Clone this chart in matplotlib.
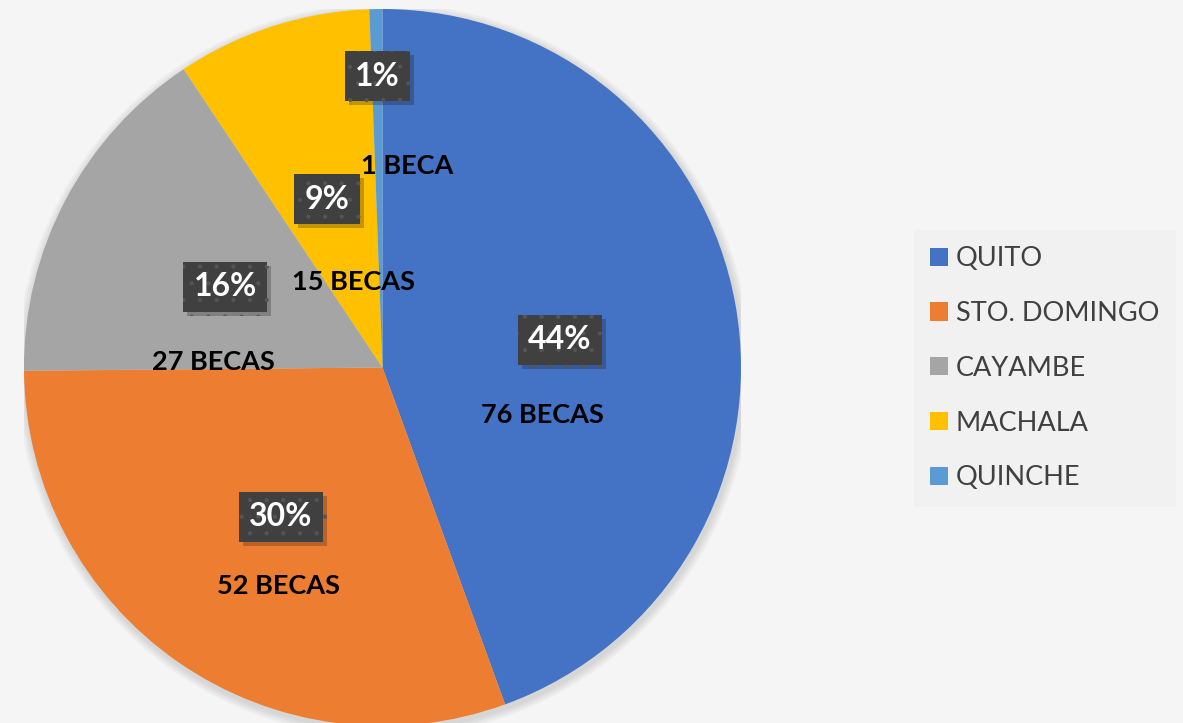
import matplotlib.pyplot as plt
import matplotlib.patheffects as pe
from matplotlib.patches import Patch, Circle

cities = ['QUITO', 'STO. DOMINGO', 'CAYAMBE', 'MACHALA', 'QUINCHE']
becas = [76, 52, 27, 15, 1]
becas_labels = ['76 BECAS', '52 BECAS', '27 BECAS', '15 BECAS', '1 BECA']
colors = ['#4472C4', '#ED7D31', '#A5A5A5', '#FFC000', '#5B9BD5']

# label positions (pie radius units)
pct_pos = [(0.495, 0.077), (-0.283, -0.417), (-0.439, 0.225), (-0.155, 0.470), (-0.015, 0.813)]
val_pos = [(0.447, -0.132), (-0.289, -0.609), (-0.473, 0.015), (-0.082, 0.238), (0.068, 0.562)]

plt.rcParams['hatch.linewidth'] = 0.6

W, H = 1183, 723
fig = plt.figure(figsize=(W / 100, H / 100), dpi=100, facecolor='#f5f5f5')
cx, cy, r = 382.5, H - 367.5, 358.5
ax = fig.add_axes([(cx - r) / W, (cy - r) / H, 2 * r / W, 2 * r / H])

# soft shadow
for i in range(4):
    ax.add_patch(Circle((0.004, -0.008), 1.0 + 0.006 * (i + 1), color='black', alpha=0.03, lw=0, zorder=0))

total = sum(becas)
wedges, _ = ax.pie(becas, colors=colors, startangle=90, counterclock=False, radius=1.0,
                   wedgeprops=dict(linewidth=0), frame=False)
for w in wedges:
    w.set_zorder(1)

ax.set_xlim(-1, 1)
ax.set_ylim(-1, 1)
ax.set_aspect('equal')
ax.axis('off')

for i, v in enumerate(becas):
    pct = '{:.0f}%'.format(v / total * 100)
    x, y = pct_pos[i]
    t = ax.text(x, y, pct, ha='center', va='center', fontsize=23, fontweight='bold', family='Lato',
                color='white', zorder=3,
                bbox=dict(boxstyle='square,pad=0.32', facecolor='#404040', edgecolor='#555555',
                          hatch='.', linewidth=0))
    t.get_bbox_patch().set_path_effects([pe.SimplePatchShadow(offset=(3, -3), alpha=0.25), pe.Normal()])
    x, y = val_pos[i]
    ax.text(x, y, becas_labels[i], ha='center', va='center', fontsize=19.5, fontweight='bold',
            family='Lato', color='black', zorder=3)

handles = [Patch(facecolor=c, edgecolor='none') for c in colors]
leg = fig.legend(handles, cities, loc='upper left', bbox_to_anchor=(914 / W, 1 - 230 / H),
                 frameon=True, fancybox=False, facecolor='#f1f1f1', edgecolor='none', framealpha=1,
                 prop={'family': 'Lato', 'size': 19.5}, labelcolor='#404040',
                 handlelength=0.65, handleheight=0.65, handletextpad=0.3, labelspacing=1.1,
                 borderpad=0.6, borderaxespad=0)

fig.savefig('out.png', dpi=100, facecolor=fig.get_facecolor())
